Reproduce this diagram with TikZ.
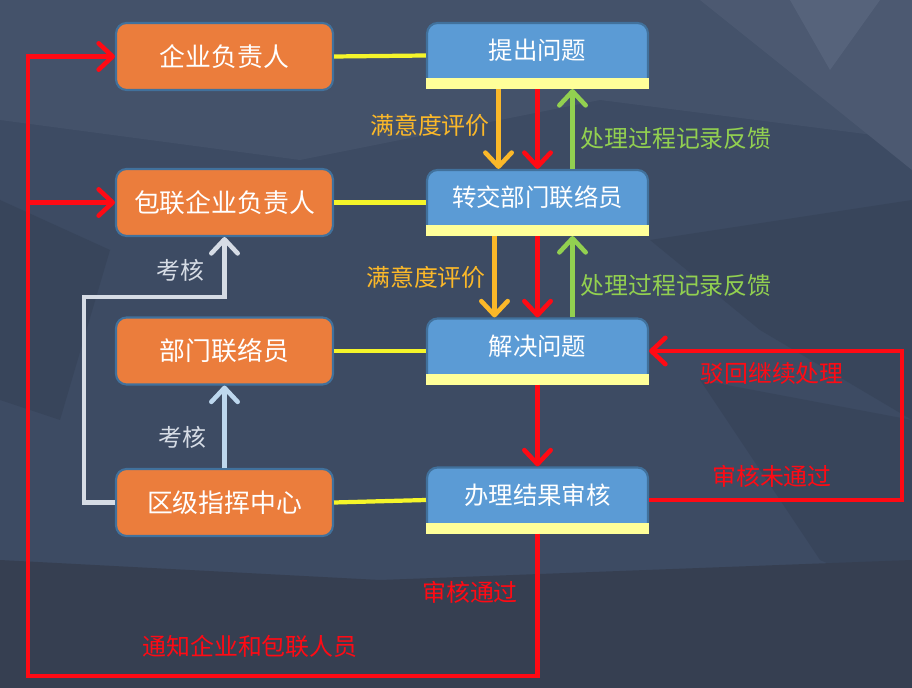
\documentclass[tikz,border=0pt]{standalone}
\usepackage{fontspec}
\usetikzlibrary{arrows.meta,calc}
\newfontfamily\cjk{Noto Sans CJK SC}

\definecolor{bgbase}{HTML}{3D4B63}
\definecolor{bgtop}{HTML}{44526A}
\definecolor{bglight}{HTML}{4C5971}
\definecolor{bglighter}{HTML}{56637B}
\definecolor{bgdark}{HTML}{38455B}
\definecolor{bgbottom}{HTML}{363F51}
\definecolor{boxorange}{HTML}{EB7D3C}
\definecolor{boxblue}{HTML}{5B9BD5}
\definecolor{boxline}{HTML}{41719C}
\definecolor{stripyellow}{HTML}{FFFF99}
\definecolor{linkyellow}{HTML}{F5F52A}
\definecolor{evalorange}{HTML}{FBB829}
\definecolor{flowred}{HTML}{FF0A14}
\definecolor{feedgreen}{HTML}{92D050}
\definecolor{checkgray}{HTML}{D6DCE5}
\definecolor{checkblue}{HTML}{BDD7EE}

\begin{document}
\begin{tikzpicture}[x=0.02cm,y=-0.02cm,
  obox/.style={draw=boxline,line width=1.2pt,fill=boxorange,rounded corners=6pt,
    minimum width=4.34cm,minimum height=1.34cm,text=white,
    font=\cjk\fontsize{14.7}{16}\selectfont},
  bbox/.style={draw=boxline,line width=1.2pt,fill=boxblue,rounded corners=6pt,
    minimum width=4.42cm,minimum height=1.3cm,inner sep=0pt,
    text height=10pt,text depth=5pt,text=white,
    font=\cjk\fontsize{13.9}{16}\selectfont},
  link/.style={linkyellow,line width=2.4pt},
  flow/.style={line width=2.6pt,-{Straight Barb[round,length=8pt,width=15pt]}},
  lbl/.style={font=\cjk\fontsize{13.6}{16}\selectfont}]

  % background
  \fill[bgbase] (0,0) rectangle (912,688);
  \fill[bgtop] (0,0) -- (912,0) -- (912,140) -- (600,100) -- (300,160) -- (0,120) -- cycle;
  \fill[bglight] (700,0) -- (912,0) -- (912,170) -- (800,80) -- cycle;
  \fill[bglighter] (790,0) -- (880,0) -- (830,70) -- cycle;
  \fill[bgdark] (0,200) -- (110,250) -- (60,420) -- (0,400) -- cycle;
  \fill[bgdark] (650,240) -- (912,200) -- (912,420) -- (760,330) -- cycle;
  \fill[bgdark] (700,380) -- (912,420) -- (912,600) -- (820,560) -- cycle;
  \fill[bgbottom] (0,560) -- (380,580) -- (912,560) -- (912,688) -- (0,688) -- cycle;

  % left boxes
  \node[obox] (o1) at (224.5,56.5) {企业负责人};
  \node[obox] (o2) at (224.5,202.5) {包联企业负责人};
  \node[obox] (o3) at (224.5,351) {部门联络员};
  \node[obox] (o4) at (224.5,502.5) {区级指挥中心};

  % right boxes
  \node[bbox] (b1) at (537.5,55.5) {提出问题};
  \node[bbox] (b2) at (537.5,202.5) {转交部门联络员};
  \node[bbox] (b3) at (537.5,351) {解决问题};
  \node[bbox] (b4) at (537.5,500) {办理结果审核};
  \foreach \b in {b1,b2,b3,b4}
    \fill[stripyellow] (\b.south west) rectangle ($(\b.south east)+(0,-11)$);

  % yellow links
  \draw[link] (o1.east) -- (b1.west);
  \draw[link] (o2.east) -- (b2.west);
  \draw[link] (o3.east) -- (b3.west);
  \draw[link] (o4.east) -- (b4.west);

  % main flow
  \draw[flow,evalorange] ($(b1.south)+(-39,0)$) -- ($(b2.north)+(-39,0)$);
  \draw[flow,flowred] (b1.south) -- (b2.north);
  \draw[flow,feedgreen] ($(b2.north)+(35,0)$) -- ($(b1.south)+(35,0)$);
  \draw[flow,evalorange] ($(b2.south)+(-43,0)$) -- ($(b3.north)+(-43,0)$);
  \draw[flow,flowred] (b2.south) -- (b3.north);
  \draw[flow,feedgreen] ($(b3.north)+(35,0)$) -- ($(b2.south)+(35,0)$);
  \draw[flow,flowred] (b3.south) -- (b4.north);

  % review loops
  \coordinate (backr) at (902,0);
  \draw[flow,flowred] (b4.east) -| (backr |- b3.east) -- (b3.east);
  \coordinate (loopbot) at (28,676);
  \draw[flow,flowred] (b4.south) |- (loopbot) |- (o1.west);
  \draw[flow,flowred] (loopbot |- o2.west) -- (o2.west);

  % checks
  \coordinate (evalturn) at (84,297);
  \draw[flow,checkgray] (o4.west) -| (evalturn) -| (o2.south);
  \draw[flow,checkblue] (o4.north) -- (o3.south);

  % labels
  \node[lbl,text=evalorange] (e1) at (430,125) {满意度评价};
  \node[lbl,text=evalorange] (e2) at (426,277) {满意度评价};
  \node[lbl,text=feedgreen] (f1) at (676,138) {处理过程记录反馈};
  \node[lbl,text=feedgreen] (f2) at (676,285) {处理过程记录反馈};
  \node[lbl,text=checkgray] (k1) at (180,270) {考核};
  \node[lbl,text=checkgray] (k2) at (182,437) {考核};
  \node[lbl,text=flowred] (r1) at (772,373) {驳回继续处理};
  \node[lbl,text=flowred] (r2) at (772,476) {审核未通过};
  \node[lbl,text=flowred] (r3) at (470,592) {审核通过};
  \node[lbl,text=flowred] (r4) at (250,646) {通知企业和包联人员};
\end{tikzpicture}
\end{document}
